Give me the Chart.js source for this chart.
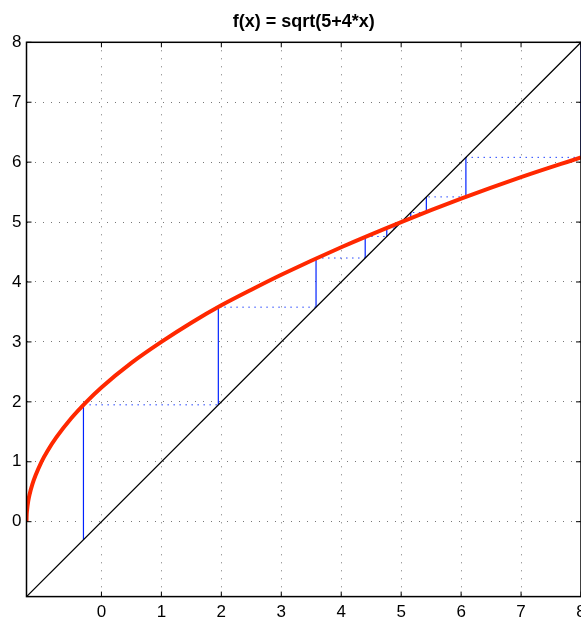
<!DOCTYPE html>
<html>
<head>
<meta charset="utf-8">
<script src="https://cdn.jsdelivr.net/npm/chart.js@4"></script>
<style>
  html, body { margin: 0; padding: 0; background: #fff; overflow: hidden; }
  #wrap { position: relative; width: 600px; height: 619px; }
</style>
</head>
<body>
<div id="wrap"><canvas id="chart"></canvas></div>
<script>
// axis ticks
const tickValues = [0, 1, 2, 3, 4, 5, 6, 7, 8];
const axisMin = -1.25;
const axisMax = 8;

// red curve
const curveX = [-1.25, -1.249, -1.24, -1.22, -1.2, -1.15, -1.1, -1.0, -0.9, -0.75, -0.5, -0.25, 0, 0.5, 1, 1.5, 2, 2.5, 3, 4, 5, 6, 7, 8];
const curveY = [0, 0.06, 0.2, 0.35, 0.45, 0.63, 0.77, 1.0, 1.18, 1.41, 1.73, 2.0, 2.24, 2.65, 3.0, 3.32, 3.61, 3.87, 4.12, 4.58, 5.0, 5.39, 5.75, 6.08];

// diagonal y = x
const diagX = [-1.25, 8];

// cobweb iterates (two starting points)
const iterA = [-0.3, 1.95, 3.58, 4.40, 4.76, 4.90, 4.96, 4.98];
const iterB = [8, 6.08, 5.42, 5.16, 5.06, 5.03];

const font = "'Liberation Sans', Arial, Helvetica, sans-serif";

function vertSegs(iters) {
  const pts = [];
  for (let i = 0; i < iters.length - 1; i++) {
    pts.push({ x: iters[i], y: iters[i] }, { x: iters[i], y: iters[i + 1] }, { x: iters[i], y: null });
  }
  return pts;
}
function horzSegs(iters) {
  const pts = [];
  for (let i = 0; i < iters.length - 1; i++) {
    pts.push({ x: iters[i], y: iters[i + 1] }, { x: iters[i + 1], y: iters[i + 1] }, { x: iters[i + 1], y: null });
  }
  return pts;
}

const vertAll = vertSegs(iterA).concat(vertSegs(iterB));
const horzAll = horzSegs(iterA).concat(horzSegs(iterB));

// box + inward tick marks like matlab
const boxPlugin = {
  id: "box",
  afterDraw(chart) {
    const { ctx, chartArea: a, scales } = chart;
    ctx.save();
    ctx.strokeStyle = "#000";
    ctx.lineWidth = 1;
    ctx.beginPath();
    tickValues.forEach((v) => {
      const px = scales.x.getPixelForValue(v);
      ctx.moveTo(px, a.bottom); ctx.lineTo(px, a.bottom - 5);
      ctx.moveTo(px, a.top); ctx.lineTo(px, a.top + 5);
      const py = scales.y.getPixelForValue(v);
      ctx.moveTo(a.left, py); ctx.lineTo(a.left + 5, py);
      ctx.moveTo(a.right, py); ctx.lineTo(a.right - 5, py);
    });
    ctx.stroke();
    ctx.lineWidth = 1.5;
    ctx.strokeRect(a.left, a.top, a.right - a.left, a.bottom - a.top);
    ctx.restore();
  },
};

const setTicks = (scale) => { scale.ticks = tickValues.map((v) => ({ value: v })); };

new Chart(document.getElementById("chart").getContext("2d"), {
  type: "scatter",
  data: {
    datasets: [
      {
        label: "f",
        data: curveX.map((x, i) => ({ x: x, y: curveY[i] })),
        showLine: true,
        borderColor: "rgb(255,40,0)",
        borderWidth: 4,
        pointRadius: 0,
        cubicInterpolationMode: "monotone",
        borderCapStyle: "butt",
        order: 1,
      },
      {
        label: "y=x",
        data: diagX.map((x) => ({ x: x, y: x })),
        showLine: true,
        borderColor: "#000",
        borderWidth: 1.3,
        pointRadius: 0,
        order: 2,
      },
      {
        label: "vert",
        data: vertAll,
        showLine: true,
        spanGaps: false,
        borderColor: "#0022ff",
        borderWidth: 1.2,
        pointRadius: 0,
        order: 3,
      },
      {
        label: "horz",
        data: horzAll,
        showLine: true,
        spanGaps: false,
        borderColor: "#2244ff",
        borderWidth: 1,
        borderDash: [1.5, 4.5],
        pointRadius: 0,
        order: 3,
      },
    ],
  },
  plugins: [boxPlugin],
  options: {
    responsive: true,
    maintainAspectRatio: false,
    animation: false,
    layout: { padding: { left: 0, right: 19, top: 0, bottom: 0 } },
    plugins: {
      legend: { display: false },
      tooltip: { enabled: false },
      title: {
        display: true,
        fullSize: false,
        text: "f(x) = sqrt(5+4*x)",
        color: "#000",
        font: { family: font, size: 18, weight: "bold", lineHeight: 1.2 },
        padding: { top: 11.2, bottom: 9.5 },
      },
    },
    scales: {
      x: {
        type: "linear",
        min: axisMin,
        max: axisMax,
        afterBuildTicks: setTicks,
        afterFit: (s) => { s.height = 22.4; },
        grid: { color: "#777", lineWidth: 1, drawTicks: false },
        border: { display: false, dash: [1, 7] },
        ticks: { color: "#000", font: { family: font, size: 17 }, padding: 6 },
      },
      y: {
        type: "linear",
        min: axisMin,
        max: axisMax,
        afterBuildTicks: setTicks,
        afterFit: (s) => { s.width = 26.5; },
        grid: { color: "#777", lineWidth: 1, drawTicks: false },
        border: { display: false, dash: [1, 7] },
        ticks: { color: "#000", font: { family: font, size: 17 }, padding: 5 },
      },
    },
  },
});
</script>
</body>
</html>
